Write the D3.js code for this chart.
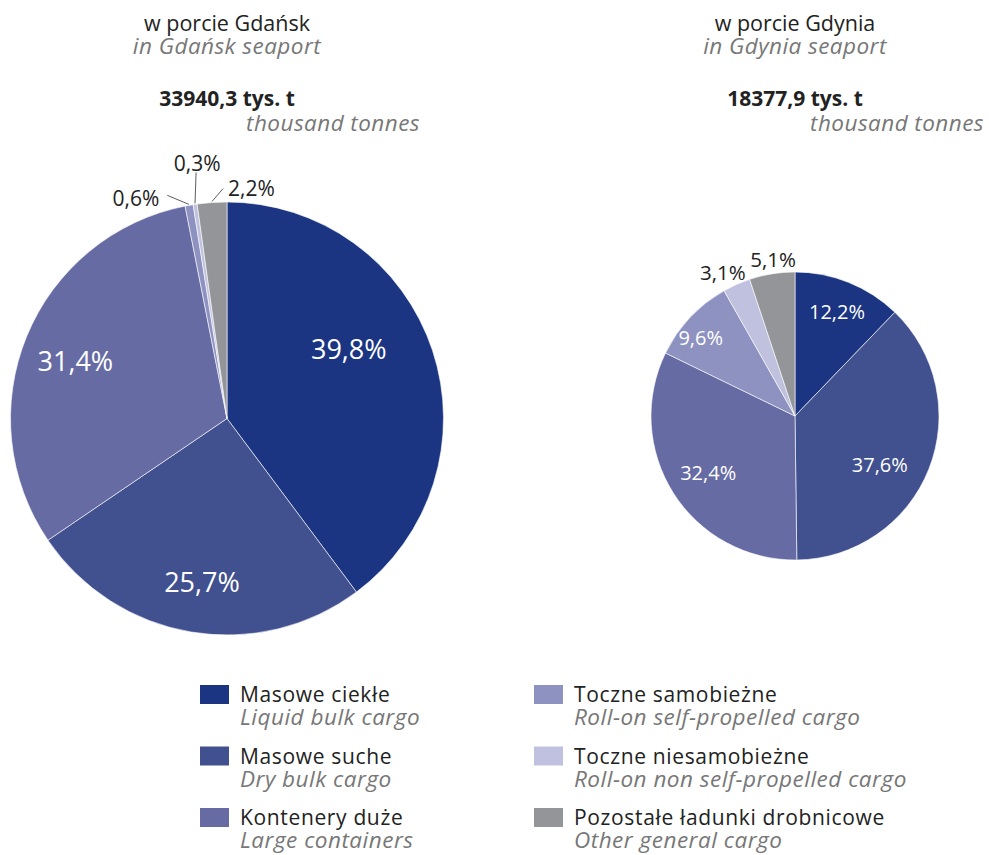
<!DOCTYPE html>
<html>
<head>
<meta charset="utf-8">
<script src="https://cdn.jsdelivr.net/npm/d3@7"></script>
<style>
  html, body { margin: 0; padding: 0; background: #ffffff; }
  svg { display: block; font-family: "Open Sans", "Noto Sans", sans-serif; }
</style>
</head>
<body>
<svg id="chart" width="989" height="855"></svg>
<script>
// ---- DATA ----
const categoriesPL = ["Masowe ciekłe", "Masowe suche", "Kontenery duże", "Toczne samobieżne", "Toczne niesamobieżne", "Pozostałe ładunki drobnicowe"];
const categoriesEN = ["Liquid bulk cargo", "Dry bulk cargo", "Large containers", "Roll-on self-propelled cargo", "Roll-on non self-propelled cargo", "Other general cargo"];
const gdanskValues = [39.8, 25.7, 31.4, 0.6, 0.3, 2.2];
const gdyniaValues = [12.2, 37.6, 32.4, 9.6, 3.1, 5.1];
const gdanskTotal = "33940,3";
const gdyniaTotal = "18377,9";
const portTitlesPL = ["w porcie Gdańsk", "w porcie Gdynia"];
const portTitlesEN = ["in Gdańsk seaport", "in Gdynia seaport"];

// ---- STYLE ----
const colors = ["#1b3583", "#41508f", "#666ba4", "#8e92c0", "#c0c1de", "#949598"];
const darkText = "#222222";
const grayText = "#777777";

const svg = d3.select("#chart");
const color = d3.scaleOrdinal().domain(categoriesPL).range(colors);
const fmt = v => d3.format(".1f")(v).replace(".", ",") + "%";

// label placement: [angle nudge (deg), radius factor, font size, inside?]
const gdanskLabelCfg = [
  [-11.7, 0.65, 27, true],
  [-0.8, 0.76, 27, true],
  [-1.4, 0.75, 27, true],
  [-12.4, 1.10, 21, false],
  [1.8, 1.19, 21, false],
  [10, 1.07, 21, false]
];
// leader lines for small slices: [angle nudge of far end (deg), far end radius]
const gdanskLeaderCfg = [null, null, null, [-4.9, 231], [1.3, 248], [3, 230]];
const gdyniaLabelCfg = [
  [0, 0.78, 20, true],
  [8.4, 0.68, 20, true],
  [-0.7, 0.72, 20, true],
  [-3.6, 0.85, 20, true],
  [-2.6, 1.12, 20.5, false],
  [1.2, 1.10, 20.5, false]
];

function drawPie(opts) {
  const { cx, cy, r, values, labelCfg, leaderCfg } = opts;
  const g = svg.append("g").attr("transform", `translate(${cx},${cy})`);
  const data = values.map((v, i) => ({ cat: categoriesPL[i], value: v }));
  const pie = d3.pie().value(d => d.value).sort(null);
  const arcs = pie(data);
  const arc = d3.arc().innerRadius(0).outerRadius(r);
  g.selectAll("path.slice").data(arcs).enter().append("path")
    .attr("class", "slice")
    .attr("d", arc)
    .attr("fill", d => color(d.data.cat))
    .attr("stroke", "#ffffff")
    .attr("stroke-width", 0.6)
    .attr("stroke-linejoin", "round");

  const polar = (angle, rad) => [Math.sin(angle) * rad, -Math.cos(angle) * rad];
  const toRad = deg => deg * Math.PI / 180;

  if (leaderCfg) {
    arcs.forEach((d, i) => {
      const c = leaderCfg[i];
      if (!c) return;
      const mid = (d.startAngle + d.endAngle) / 2;
      const p0 = polar(mid, r + 1);
      const p1 = polar(mid + toRad(c[0]), c[1]);
      g.append("line")
        .attr("x1", p0[0]).attr("y1", p0[1])
        .attr("x2", p1[0]).attr("y2", p1[1])
        .attr("stroke", "#333333").attr("stroke-width", 0.8);
    });
  }

  g.selectAll("text.pct").data(arcs).enter().append("text")
    .attr("class", "pct")
    .attr("transform", (d, i) => {
      const c = labelCfg[i];
      const mid = (d.startAngle + d.endAngle) / 2 + toRad(c[0]);
      const p = polar(mid, r * c[1]);
      return `translate(${p[0]},${p[1]})`;
    })
    .attr("text-anchor", "middle")
    .attr("dominant-baseline", "central")
    .attr("font-size", (d, i) => labelCfg[i][2])
    .attr("fill", (d, i) => labelCfg[i][3] ? "#ffffff" : darkText)
    .text(d => fmt(d.data.value));
}

function drawHeader(cx, rightX, titlePL, titleEN, total) {
  svg.append("text").attr("x", cx).attr("y", 31).attr("text-anchor", "middle")
    .attr("font-size", 21.5).attr("fill", darkText).text(titlePL);
  svg.append("text").attr("x", cx).attr("y", 54).attr("text-anchor", "middle")
    .attr("font-size", 22.5).attr("letter-spacing", 0.45).attr("font-style", "italic").attr("fill", grayText).text(titleEN);
  svg.append("text").attr("x", cx).attr("y", 106).attr("text-anchor", "middle")
    .attr("font-size", 21).attr("font-weight", "bold").attr("fill", darkText)
    .text(total + " tys. t");
  svg.append("text").attr("x", rightX).attr("y", 131).attr("text-anchor", "end")
    .attr("font-size", 22.5).attr("letter-spacing", 0.45).attr("font-style", "italic").attr("fill", grayText).text("thousand tonnes");
}

drawHeader(227, 420, portTitlesPL[0], portTitlesEN[0], gdanskTotal);
drawHeader(795, 984, portTitlesPL[1], portTitlesEN[1], gdyniaTotal);

drawPie({ cx: 227, cy: 418.5, r: 216.5, values: gdanskValues, labelCfg: gdanskLabelCfg, leaderCfg: gdanskLeaderCfg });
drawPie({ cx: 795, cy: 416, r: 144, values: gdyniaValues, labelCfg: gdyniaLabelCfg, leaderCfg: null });

// ---- LEGEND ----
const legendCols = [200, 534];
const legendY0 = 685, legendDY = 61.5;
categoriesPL.forEach((cat, i) => {
  const col = Math.floor(i / 3), row = i % 3;
  const x = legendCols[col], y = legendY0 + row * legendDY;
  const g = svg.append("g").attr("transform", `translate(${x},${y})`);
  g.append("rect").attr("x", 0).attr("y", 0).attr("width", 29).attr("height", 19).attr("fill", color(cat));
  g.append("text").attr("x", 40).attr("y", 17).attr("font-size", 21).attr("letter-spacing", 0.65)
    .attr("fill", darkText).text(cat);
  g.append("text").attr("x", 40).attr("y", 40).attr("font-size", 22.5).attr("letter-spacing", 0.5)
    .attr("font-style", "italic").attr("fill", grayText).text(categoriesEN[i]);
});
</script>
</body>
</html>
